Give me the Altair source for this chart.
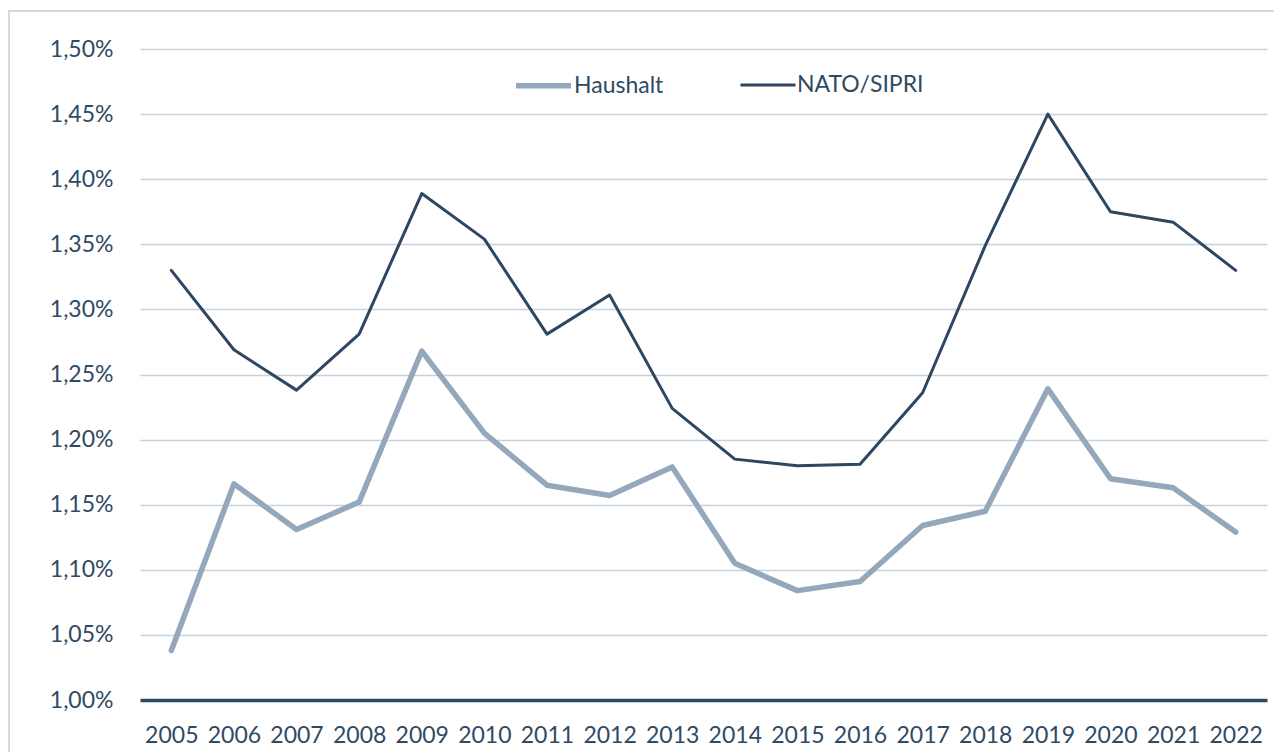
import altair as alt
import pandas as pd

years = [str(y) for y in range(2005, 2023)]
haushalt = [1.038, 1.166, 1.131, 1.152, 1.268, 1.205, 1.165, 1.157, 1.179,
            1.105, 1.084, 1.091, 1.134, 1.145, 1.239, 1.170, 1.163, 1.129]
nato = [1.330, 1.269, 1.238, 1.281, 1.389, 1.354, 1.281, 1.311, 1.224,
        1.185, 1.180, 1.181, 1.236, 1.349, 1.450, 1.375, 1.367, 1.330]
series = ["Haushalt", "NATO/SIPRI"]
yticks = [1.00, 1.05, 1.10, 1.15, 1.20, 1.25, 1.30, 1.35, 1.40, 1.45, 1.50]

rows = []
for i, y in enumerate(years):
    rows.append({"Jahr": y, "Wert": haushalt[i], "Reihe": series[0]})
    rows.append({"Jahr": y, "Wert": nato[i], "Reihe": series[1]})
df = pd.DataFrame(rows)

TXT = "#2f4a63"
FONT = "Lato"

border = alt.Chart(pd.DataFrame({"a": [0]})).mark_rect(
    fill=None, stroke="#d9d9d9", strokeWidth=2
).encode(
    x=alt.value(-131), x2=alt.value(1135), y=alt.value(-38), y2=alt.value(720)
)

lines = alt.Chart(df).mark_line(strokeCap="round", strokeJoin="round").encode(
    x=alt.X("Jahr:O", sort=years, title=None,
            scale=alt.Scale(type="point", padding=0.5),
            axis=alt.Axis(labelAngle=0, ticks=False, grid=False,
                          domainColor="#2f4a63", domainWidth=3.5,
                          labelPadding=24, labelFontSize=23,
                          labelColor=TXT, labelFont=FONT)),
    y=alt.Y("Wert:Q", title=None,
            scale=alt.Scale(domain=[1.0, 1.5], nice=False, zero=False),
            axis=alt.Axis(values=yticks, domain=False, ticks=False,
                          grid=True, gridColor="#c6d3de", gridWidth=1.6,
                          labelExpr="replace(format(datum.value, '.2f'), '.', ',') + '%'",
                          labelPadding=27, labelFontSize=23,
                          labelColor=TXT, labelFont=FONT)),
    color=alt.Color("Reihe:N", sort=series, title=None,
                    scale=alt.Scale(domain=series, range=["#94a7bb", "#2e4660"]),
                    legend=alt.Legend(orient="none", legendX=373, legendY=6,
                                      direction="horizontal", symbolType="stroke",
                                      symbolSize=3025, symbolStrokeWidth=5,
                                      labelFontSize=23, labelColor=TXT,
                                      labelFont=FONT, labelOffset=0,
                                      columnPadding=70)),
    strokeWidth=alt.StrokeWidth("Reihe:N", sort=series,
                                scale=alt.Scale(domain=series, range=[5.5, 3]),
                                legend=None),
)

chart = alt.layer(border, lines).properties(
    width=1127, height=651,
    padding={"left": 132, "top": 41, "right": 7, "bottom": 52},
    autosize=alt.AutoSizeParams(type="none"),
    view=alt.ViewBackground(stroke="transparent", strokeWidth=0),
).configure_view(strokeWidth=0, stroke="transparent").configure(background="white")

chart.save("out.html", embed_options={"renderer": "svg", "actions": False})
